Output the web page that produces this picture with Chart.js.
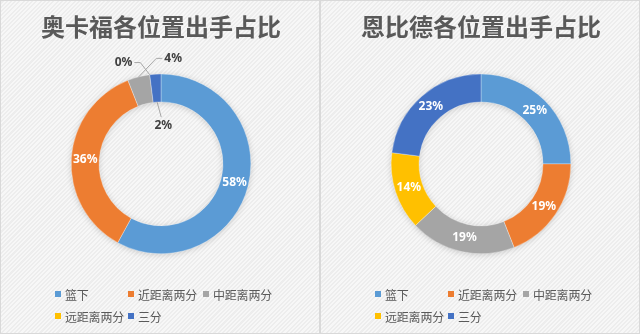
<!DOCTYPE html>
<html>
<head>
<meta charset="utf-8">
<script src="https://cdn.jsdelivr.net/npm/chart.js@4.4.0/dist/chart.umd.min.js"></script>
<style>
  html, body { margin: 0; padding: 0; }
  body { width: 640px; height: 334px; overflow: hidden; background: #fff; }
  .panel {
    position: absolute; top: 0; width: 320px; height: 334px; box-sizing: border-box;
    border: 1px solid #d9d9d9;
    background: repeating-linear-gradient(-45deg, #f7f7f7 0px, #f7f7f7 1.5px, #ededed 1.5px, #ededed 3px);
  }
  .panel canvas { position: absolute; left: 0; top: 0; }
  .legend {
    position: absolute; left: 54px; top: 284px;
    display: grid; grid-template-columns: 73px 75px auto; row-gap: 4px;
    font: 12px "Noto Sans CJK SC", sans-serif; color: #595959; letter-spacing: -0.2px;
  }
  .legend span { display: flex; align-items: center; height: 18px; white-space: nowrap; }
  .legend i { display: inline-block; width: 6px; height: 6px; margin-right: 4px; }
</style>
</head>
<body>
<div class="panel" style="left:0"><canvas id="okafor" width="320" height="334"></canvas><div class="legend" id="legend1"></div></div>
<div class="panel" style="left:320px"><canvas id="embiid" width="320" height="334"></canvas><div class="legend" id="legend2"></div></div>
<script>
const categories = ['篮下', '近距离两分', '中距离两分', '远距离两分', '三分'];
const okaforShares = [58, 36, 4, 0, 2];
const embiidShares = [25, 19, 19, 14, 23];
const sliceColors = ['#5B9BD5', '#ED7D31', '#A5A5A5', '#FFC000', '#4472C4'];
const titleOkafor = '奥卡福各位置出手占比';
const titleEmbiid = '恩比德各位置出手占比';

// labels for tiny slices sit outside with a leader line
const okaforCallouts = {
  2: { dx: 31, dy: -32, side: 'right', edge: 'outer' },
  3: { dx: -28, dy: -26, side: 'left', edge: 'outer' },
  4: { dx: 7, dy: 37, side: 'below', edge: 'inner' }
};

// soft shadow under the whole ring, like the Excel original
const ringShadow = {
  id: 'ringShadow',
  beforeDatasetsDraw(chart) {
    const arc = chart.getDatasetMeta(0).data[0];
    if (!arc) return;
    const p = arc.getProps(['x', 'y', 'innerRadius', 'outerRadius'], true);
    const ctx = chart.ctx;
    ctx.save();
    ctx.shadowColor = 'rgba(0,0,0,0.22)';
    ctx.shadowBlur = 7;
    ctx.shadowOffsetY = 1;
    ctx.fillStyle = '#ffffff';
    ctx.beginPath();
    ctx.arc(p.x, p.y, p.outerRadius - 1, 0, Math.PI * 2);
    ctx.arc(p.x, p.y, p.innerRadius + 1, 0, Math.PI * 2, true);
    ctx.fill();
    ctx.restore();
  }
};

const sliceLabels = {
  id: 'sliceLabels',
  afterDatasetsDraw(chart, args, opts) {
    const ctx = chart.ctx;
    const meta = chart.getDatasetMeta(0);
    const values = chart.data.datasets[0].data;
    const callouts = opts.callouts || {};
    ctx.save();
    ctx.font = 'bold 12px "Noto Sans", "Open Sans", sans-serif';
    ctx.textAlign = 'center';
    ctx.textBaseline = 'middle';
    meta.data.forEach((arc, i) => {
      const p = arc.getProps(['x', 'y', 'startAngle', 'endAngle', 'innerRadius', 'outerRadius'], true);
      const mid = (p.startAngle + p.endAngle) / 2;
      const r = (p.innerRadius + p.outerRadius) / 2;
      const cx = p.x + Math.cos(mid) * r;
      const cy = p.y + Math.sin(mid) * r;
      const text = values[i] + '%';
      const c = callouts[i];
      if (!c) {
        ctx.fillStyle = '#ffffff';
        ctx.fillText(text, cx, cy);
        return;
      }
      const lx = cx + c.dx, ly = cy + c.dy;
      const er = c.edge === 'inner' ? p.innerRadius : p.outerRadius;
      const ex = p.x + Math.cos(mid) * er;
      const ey = p.y + Math.sin(mid) * er;
      const tw = ctx.measureText(text).width;
      ctx.strokeStyle = '#a6a6a6';
      ctx.lineWidth = 1;
      ctx.beginPath();
      if (c.side === 'left') {
        ctx.moveTo(lx + tw / 2 + 2, ly);
        ctx.lineTo(lx + tw / 2 + 8, ly);
      } else if (c.side === 'right') {
        ctx.moveTo(lx - tw / 2 - 2, ly);
        ctx.lineTo(lx - tw / 2 - 8, ly);
      } else {
        ctx.moveTo(lx - 2, ly - 8);
      }
      ctx.lineTo(ex, ey);
      ctx.stroke();
      ctx.fillStyle = '#404040';
      ctx.fillText(text, lx, ly);
    });
    ctx.restore();
  }
};

function makeDonut(id, legendId, title, shares, callouts) {
  const chart = new Chart(document.getElementById(id), {
    type: 'doughnut',
    data: {
      labels: categories,
      datasets: [{
        data: shares,
        backgroundColor: sliceColors,
        borderColor: 'rgba(255,255,255,0.6)',
        borderWidth: 0.5
      }]
    },
    options: {
      responsive: false,
      animation: false,
      cutout: '69%',
      layout: { padding: { bottom: 81 } },
      plugins: {
        legend: { display: false },
        tooltip: { enabled: false },
        title: {
          display: true,
          text: title,
          color: '#595959',
          font: { size: 24, weight: 'bold', family: '"Noto Sans CJK SC", sans-serif' },
          padding: { top: 11, bottom: 33 }
        },
        sliceLabels: { callouts: callouts }
      }
    },
    plugins: [ringShadow, sliceLabels]
  });

  const legend = document.getElementById(legendId);
  chart.data.labels.forEach((name, i) => {
    const item = document.createElement('span');
    item.innerHTML = `<i style="background:${sliceColors[i]}"></i>${name}`;
    legend.appendChild(item);
  });
  return chart;
}

makeDonut('okafor', 'legend1', titleOkafor, okaforShares, okaforCallouts);
makeDonut('embiid', 'legend2', titleEmbiid, embiidShares, {});
</script>
</body>
</html>
